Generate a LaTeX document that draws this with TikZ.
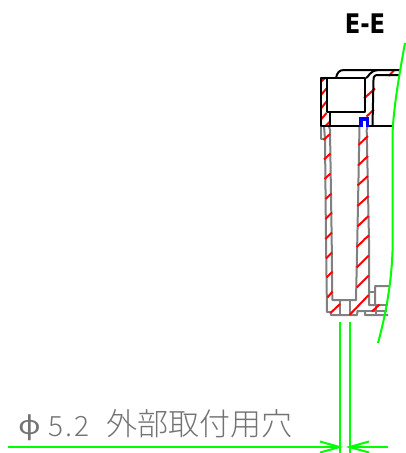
\documentclass[tikz,border=0pt]{standalone}
\usepackage{fontspec}
\newfontfamily\cjk{Noto Sans CJK JP Light}
\newfontfamily\headfont{DejaVu Sans}
\newfontfamily\phifont{Noto Sans}
\definecolor{drawgrey}{RGB}{128,128,128}
\definecolor{textgrey}{RGB}{115,115,115}
\definecolor{dimgreen}{RGB}{0,255,0}
\definecolor{hatchred}{RGB}{255,0,0}
\definecolor{sealblue}{RGB}{0,0,255}
\tikzset{
  outline/.style={draw=black,line width=2pt,line join=round},
  wall/.style={draw=drawgrey,line width=2pt,line join=round},
  hatch/.style={draw=hatchred,line width=2pt},
  dim/.style={draw=dimgreen,line width=2pt},
  curve/.style={draw=dimgreen,line width=2pt},
}
\begin{document}
\begin{tikzpicture}[x=1pt,y=-1pt]
\useasboundingbox (0,0) rectangle (405,453);
% grey walls
\draw[wall] (321,126) -- (321,139) -- (325,139);
\draw[wall] (324,126) -- (325,139) -- (326,240) -- (327,312) -- (330.5,312) -- (331,315) -- (357,315) -- (357.5,311) -- (365,311) -- (365,315) -- (388,315);
\draw[wall] (329,126) -- (330,130) -- (331.7,240) -- (332.3,300) -- (356,300) -- (357.3,240) -- (359.5,126);
\draw[wall] (367.5,126) -- (366.7,130) -- (369,240) -- (369,305) -- (375,305) -- (375,286) -- (389,286);
\draw[wall] (369,291.7) -- (375,291.7);
\draw[wall] (375,305) -- (388,305);
\draw[wall] (365,311) -- (387,311);
\draw[wall] (339.5,300) -- (339.5,315);
\draw[wall] (349.5,300) -- (349.5,315);
\draw[wall] (376,305) -- (376,315);
% hatching
\foreach \a/\b/\c/\d in {
 321/81.5/326/77.5, 321/95/326.5/88.5, 321/108.5/326.5/101.5, 321/119.5/326.5/113,
 325/126.5/330/121.5,
 323.5/140/330/134, 324/159.5/330.5/153.5, 324.5/179/330.5/173.5, 325.5/199/331.5/193.5, 325.5/219/332/212.5, 325.5/239/332/232.5,
 326/258.5/332/252.5, 326.5/277.5/332.5/271.5, 327.5/297.5/332.5/291.5, 330.5/313/340/304,
 364/98.5/375/88.5, 366.5/116.5/374/109.5, 388.5/76/395/69.5,
 358.5/145/368/136, 358/165.5/368/156, 357.5/185.5/368/176, 357.5/206/368.5/196, 357.5/226.5/368.5/216, 363.5/240/369/235.5,
 356.7/247/364/240, 356.7/267.5/368.7/255.5, 356.7/287.5/368.7/275.5, 349.5/315/368.7/295, 372/311.5/379.5/304.5}{
  \draw[hatch] (\a,\b) -- (\c,\d);
}
% black outlines
\draw[outline] (327,78) rectangle (365,112);
\draw[outline] (327,78) -- (321,78) -- (321,126) -- (392,126);
\draw[outline] (330,112) -- (330,126);
\draw[outline] (336,78) .. controls (337,73) and (339,70) .. (344,70) -- (400,70);
\draw[outline] (366,78) .. controls (369,77) and (369,71) .. (378,70);
\draw[outline] (372.5,126) -- (373.5,80) .. controls (373.5,76.5) and (374.5,75) .. (378,75) -- (399,75);
% seal
\fill[sealblue] (359,116.5) rectangle (369,127);
\fill[white] (362.8,120.7) rectangle (366.2,128);
% green curve
\draw[curve] (405,43) .. controls (400,70) and (394,105) .. (392.7,130) -- (392.7,240) .. controls (392.7,275) and (387,310) .. (378,343);
% dimension
\draw[dim] (339.5,322) -- (339.5,453);
\draw[dim] (349.5,322) -- (349.5,453);
\draw[dim] (8,447) -- (339.5,447);
\draw[dim] (349.5,447) -- (388,447);
\draw[dim] (320,441.5) -- (339.5,447) -- (320,452.5);
\draw[dim] (369,441.5) -- (349.5,447) -- (369,452.5);
% texts
\node[anchor=center,inner sep=0pt,xscale=.84] (title) at (365,24) {\headfont\bfseries\fontsize{27}{27}\selectfont E-E};
\node[anchor=west,inner sep=0pt,text=textgrey,xscale=1.2] (phi) at (18,428) {\phifont\fontsize{26}{26}\selectfont ϕ};
\node[anchor=west,inner sep=0pt,text=textgrey] (size) at (48,427) {\cjk\fontsize{28}{28}\selectfont 5\kern2pt.\kern2pt2};
\node[anchor=west,inner sep=0pt,text=textgrey] (label) at (106.5,424) {\cjk\fontsize{31}{31}\selectfont 外部取付用穴};
\end{tikzpicture}
\end{document}
